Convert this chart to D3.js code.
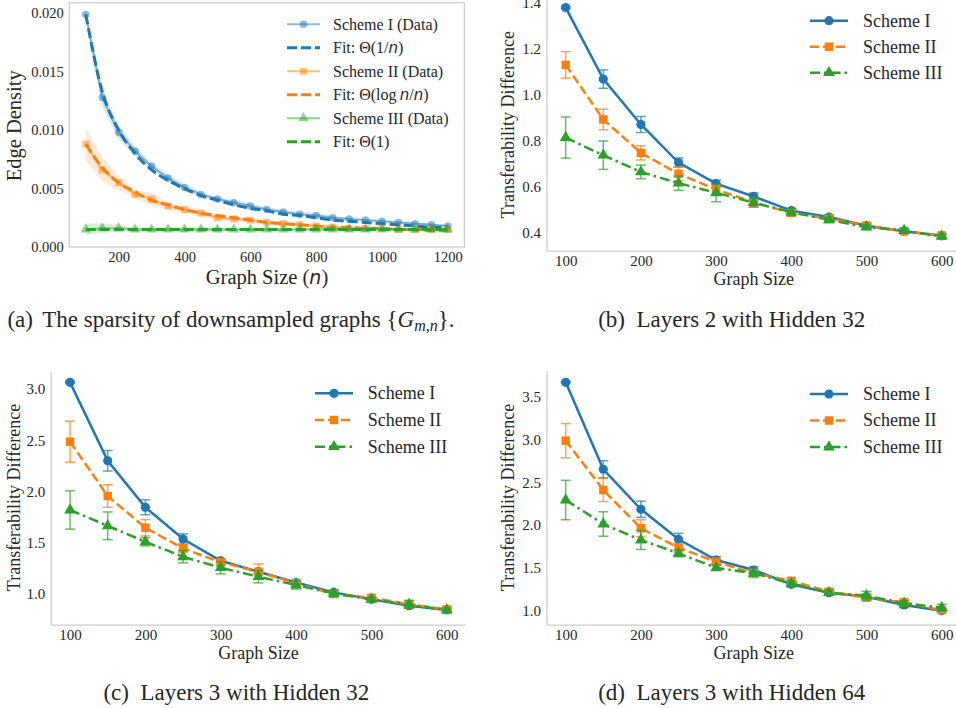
<!DOCTYPE html>
<html>
<head>
<meta charset="utf-8">
<script src="https://cdn.jsdelivr.net/npm/d3@7/dist/d3.min.js"></script>
<style>
body { margin: 0; background: #fff; }
svg text { font-family: "Liberation Serif", "Times New Roman", serif; fill: #262626; }
</style>
</head>
<body>
<svg id="fig" width="956" height="708"></svg>
<script>
// ---------- panel (a): edge density of downsampled graphs
var sizesA = [100,150,200,250,300,350,400,450,500,550,600,650,700,750,800,850,900,950,1000,1050,1100,1150,1200]

var densI   = [0.0199,0.0128,0.0098,0.0082,0.0069,0.0059,0.0051,0.0045,0.0041,0.0038,0.0035,0.0032,0.0030,0.0028,0.0027,0.0025,0.0024,0.0023,0.0022,0.0021,0.0020,0.0019,0.0018]
var bandI   = [0.0003,0.0008,0.0006,0.0004,0.0003,0.0003,0.0003,0.0002,0.0002,0.0002,0.0002,0.0002,0.0002,0.0002,0.0002,0.0002,0.0001,0.0001,0.0001,0.0001,0.0001,0.0001,0.0001]
var fitI    = [0.0199,0.0133,0.0100,0.0080,0.0066,0.0057,0.0050,0.0044,0.0040,0.0036,0.0033,0.0031,0.0028,0.0027,0.0025,0.0023,0.0022,0.0021,0.0020,0.0019,0.0018,0.0017,0.0017]

var densII  = [0.0088,0.0066,0.0055,0.0045,0.0041,0.0035,0.0032,0.0029,0.0025,0.0024,0.0023,0.0021,0.0020,0.0019,0.0018,0.0017,0.0016,0.0016,0.0016,0.0015,0.0015,0.0015,0.0015]
var bandII  = [0.0014,0.0010,0.0006,0.0004,0.0005,0.0003,0.0003,0.0003,0.0002,0.0002,0.0002,0.0002,0.0002,0.0002,0.0002,0.0002,0.0001,0.0001,0.0001,0.0001,0.0001,0.0001,0.0001]
var fitII   = [0.0088,0.0068,0.0055,0.0047,0.0040,0.0036,0.0032,0.0029,0.0027,0.0025,0.0023,0.0021,0.0020,0.0019,0.0018,0.0017,0.0017,0.0016,0.0016,0.0015,0.0015,0.0014,0.0014]

var densIII = [0.0015,0.0016,0.0016,0.0015,0.0015,0.0015,0.0015,0.0015,0.0015,0.0015,0.0015,0.0015,0.0015,0.0015,0.0015,0.0015,0.0015,0.0015,0.0015,0.0015,0.0015,0.0015,0.0015]
var bandIII = [0.0005,0.0004,0.0003,0.0002,0.0002,0.0002,0.0002,0.0002,0.0002,0.0001,0.0001,0.0001,0.0001,0.0001,0.0001,0.0001,0.0001,0.0001,0.0001,0.0001,0.0001,0.0001,0.0001]
var fitIII  = [0.0015,0.0015,0.0015,0.0015,0.0015,0.0015,0.0015,0.0015,0.0015,0.0015,0.0015,0.0015,0.0015,0.0015,0.0015,0.0015,0.0015,0.0015,0.0015,0.0015,0.0015,0.0015,0.0015]

var ticksAx = [200,400,600,800,1000,1200]
var ticksAy = [0,0.005,0.010,0.015,0.020]

// ---------- panels (b)-(d): transferability difference
var sizesB = [100,150,200,250,300,350,400,450,500,550,600]
var schemes = ["Scheme I","Scheme II","Scheme III"]

// (b) Layers 2, Hidden 32
var b_I    = [1.380,1.068,0.870,0.704,0.612,0.556,0.494,0.466,0.428,0.404,0.384]
var b_Ierr = [0.005,0.040,0.035,0.020,0.015,0.015,0.010,0.010,0.010,0.008,0.008]
var b_II   = [1.130,0.892,0.746,0.655,0.587,0.529,0.485,0.459,0.429,0.404,0.386]
var b_IIerr= [0.058,0.045,0.031,0.030,0.020,0.012,0.015,0.010,0.012,0.010,0.008]
var b_III  = [0.813,0.736,0.663,0.614,0.572,0.529,0.488,0.454,0.422,0.407,0.382]
var b_IIIerr=[0.090,0.062,0.030,0.031,0.039,0.020,0.015,0.012,0.010,0.010,0.008]

// (c) Layers 3, Hidden 32
var c_I    = [3.065,2.300,1.846,1.537,1.325,1.218,1.113,1.016,0.948,0.886,0.844]
var c_Ierr = [0.010,0.100,0.073,0.050,0.020,0.020,0.020,0.020,0.020,0.020,0.010]
var c_II   = [2.486,1.956,1.647,1.446,1.309,1.218,1.104,1.000,0.964,0.899,0.850]
var c_IIerr= [0.200,0.110,0.080,0.040,0.030,0.075,0.030,0.030,0.030,0.030,0.020]
var c_III  = [1.820,1.666,1.510,1.364,1.257,1.169,1.088,1.006,0.948,0.899,0.844]
var c_IIIerr=[0.187,0.135,0.040,0.060,0.060,0.060,0.040,0.030,0.020,0.040,0.020]

// (d) Layers 3, Hidden 64
var d_I    = [3.668,2.652,2.185,1.834,1.592,1.475,1.308,1.210,1.164,1.067,1.000]
var d_Ierr = [0.010,0.100,0.095,0.070,0.040,0.040,0.030,0.030,0.030,0.030,0.020]
var d_II   = [2.986,2.410,1.963,1.736,1.572,1.437,1.350,1.222,1.152,1.098,1.008]
var d_IIerr= [0.200,0.135,0.100,0.050,0.030,0.050,0.030,0.030,0.030,0.030,0.020]
var d_III  = [2.293,2.013,1.826,1.670,1.502,1.437,1.320,1.210,1.175,1.086,1.035]
var d_IIIerr=[0.230,0.143,0.110,0.040,0.030,0.030,0.030,0.030,0.050,0.030,0.040]

var ticksBx = [100,200,300,400,500,600]
var ticksBy = [0.4,0.6,0.8,1.0,1.2,1.4]
var ticksCy = [1.0,1.5,2.0,2.5,3.0]
var ticksDy = [1.0,1.5,2.0,2.5,3.0,3.5]

var colors = ["#1f77b4","#ff7f0e","#2ca02c"]
var dashes = [null,"9,4","10,4,2.5,4"]
var symbols = [d3.symbolCircle, d3.symbolSquare, d3.symbolTriangle]
var symSizes = [66, 72, 60]
var spine = "#cccccc"

var svg = d3.select("#fig")

function styleAxis(g, fs){
    g.select(".domain").remove()
    g.selectAll("text").attr("font-size", fs).attr("fill", "#262626")
        .attr("font-family", "Liberation Serif")
}

// ================= panel (a) =================
{
    var x = d3.scaleLinear().domain([50,1250]).range([69.3,464.3])
    var y = d3.scaleLinear().domain([0,0.0209]).range([247,2.7])
    var g = svg.append("g")

    g.append("rect").attr("x",69.3).attr("y",2.7).attr("width",395).attr("height",244.3)
        .attr("fill","none").attr("stroke",spine).attr("stroke-width",1.25)

    var dens = [densI, densII, densIII]
    var bands = [bandI, bandII, bandIII]
    var fits = [fitI, fitII, fitIII]

    for(var s = 0; s < 3; s++){
        var pts = sizesA.map(function(n,i){ return {n:n, v:dens[s][i], b:bands[s][i], f:fits[s][i]} })
        var area = d3.area().x(function(d){ return x(d.n) })
            .y0(function(d){ return y(d.v - d.b) }).y1(function(d){ return y(d.v + d.b) })
        g.append("path").attr("d", area(pts)).attr("fill", colors[s]).attr("fill-opacity", 0.18)

        var line = d3.line().x(function(d){ return x(d.n) }).y(function(d){ return y(d.v) })
        g.append("path").attr("d", line(pts)).attr("fill","none")
            .attr("stroke", colors[s]).attr("stroke-opacity",0.5).attr("stroke-width",2)
        g.selectAll("path.mk" + s).data(pts).enter().append("path")
            .attr("class","mk" + s)
            .attr("transform", function(d){ return "translate(" + x(d.n) + "," + y(d.v) + ")" })
            .attr("d", d3.symbol().type(symbols[s]).size(s == 0 ? 44 : 48))
            .attr("fill", colors[s]).attr("fill-opacity",0.5)

        var fitLine = d3.line().curve(d3.curveMonotoneX)
            .x(function(d){ return x(d.n) }).y(function(d){ return y(d.f) })
        g.append("path").attr("d", fitLine(pts)).attr("fill","none")
            .attr("stroke", colors[s]).attr("stroke-width",3).attr("stroke-dasharray","10,4")
    }

    var xa = g.append("g").attr("transform","translate(0,247)")
        .call(d3.axisBottom(x).tickValues(ticksAx).tickSize(0).tickPadding(4.4).tickFormat(d3.format("d")))
    styleAxis(xa, "14.5px")
    var ya = g.append("g").attr("transform","translate(69.3,0)")
        .call(d3.axisLeft(y).tickValues(ticksAy).tickSize(0).tickPadding(5.5).tickFormat(d3.format(".3f")))
    styleAxis(ya, "14.5px")

    var xl = g.append("text").attr("x",267).attr("y",283.5).attr("text-anchor","middle").attr("font-size","20.5px")
    xl.append("tspan").text("Graph Size (")
    xl.append("tspan").text("n").attr("font-family","DejaVu Sans").attr("font-style","italic").attr("font-size","19px")
    xl.append("tspan").text(")")

    g.append("text").attr("transform","translate(20.5,125.8) rotate(-90)")
        .attr("text-anchor","middle").attr("font-size","20.5px").text("Edge Density")

    // legend
    var legRows = [
        {s:0, fit:false, parts:[["Scheme I (Data)"]]},
        {s:0, fit:true,  parts:[["Fit: \u0398(1/"],["n","m"],[")"]]},
        {s:1, fit:false, parts:[["Scheme II (Data)"]]},
        {s:1, fit:true,  parts:[["Fit: \u0398(log\u2009"],["n","m"],["/"],["n","m"],[")"]]},
        {s:2, fit:false, parts:[["Scheme III (Data)"]]},
        {s:2, fit:true,  parts:[["Fit: \u0398(1)"]]}
    ]
    legRows.forEach(function(r, i){
        var yy = 24.3 + i * 23.5
        var lg = g.append("g")
        if(r.fit){
            lg.append("line").attr("x1",287).attr("x2",320).attr("y1",yy).attr("y2",yy)
                .attr("stroke",colors[r.s]).attr("stroke-width",3).attr("stroke-dasharray","10,4")
        } else {
            lg.append("line").attr("x1",287).attr("x2",320).attr("y1",yy).attr("y2",yy)
                .attr("stroke",colors[r.s]).attr("stroke-opacity",0.5).attr("stroke-width",2)
            lg.append("path").attr("transform","translate(303.5," + yy + ")")
                .attr("d", d3.symbol().type(symbols[r.s]).size(r.s == 0 ? 44 : 48))
                .attr("fill",colors[r.s]).attr("fill-opacity",0.5)
        }
        var t = lg.append("text").attr("x",333).attr("y",yy).attr("dy","0.33em").attr("font-size","16px")
        r.parts.forEach(function(p){
            var ts = t.append("tspan").text(p[0])
            if(p[1]) ts.attr("font-family","DejaVu Sans").attr("font-style","italic").attr("font-size","15px")
        })
    })

    var cap = svg.append("text").attr("x",231).attr("y",327).attr("text-anchor","middle").attr("font-size","23px")
    cap.append("tspan").text("(a)")
    cap.append("tspan").attr("dx",4).text(" The sparsity of downsampled graphs {")
    cap.append("tspan").attr("font-style","italic").text("G")
    cap.append("tspan").attr("font-style","italic").attr("font-size","16px").attr("dy",4).text("m,n")
    cap.append("tspan").attr("dy",-4).text("}.")
}

// ================= panels (b)-(d) =================
function tdPanel(cfg, vals, errs){
    var x = d3.scaleLinear().domain([75,625]).range(cfg.xr)
    var y = d3.scaleLinear().domain(cfg.yd).range(cfg.yr)
    var g = svg.append("g")

    // spines (left + bottom)
    g.append("line").attr("x1",cfg.xr[0]).attr("x2",cfg.xr[0]).attr("y1",cfg.yr[0]).attr("y2",cfg.yr[1])
        .attr("stroke",spine).attr("stroke-width",1.25)
    g.append("line").attr("x1",cfg.xr[0]).attr("x2",cfg.xr[1]).attr("y1",cfg.yr[0]).attr("y2",cfg.yr[0])
        .attr("stroke",spine).attr("stroke-width",1.25)

    var xa = g.append("g").attr("transform","translate(0," + cfg.yr[0] + ")")
        .call(d3.axisBottom(x).tickValues(ticksBx).tickSize(0).tickPadding(4.4).tickFormat(d3.format("d")))
    styleAxis(xa, "15px")
    var ya = g.append("g").attr("transform","translate(" + cfg.xr[0] + ",0)")
        .call(d3.axisLeft(y).tickValues(cfg.yt).tickSize(0).tickPadding(6).tickFormat(d3.format(".1f")))
    styleAxis(ya, "15px")

    for(var s = 0; s < 3; s++){
        var pts = sizesB.map(function(n,i){ return {n:n, v:vals[s][i], e:errs[s][i]} })
        var eg = g.append("g").attr("stroke",colors[s]).attr("stroke-opacity",0.7).attr("stroke-width",1.5)
        pts.forEach(function(d){
            var cx = x(d.n)
            eg.append("line").attr("x1",cx).attr("x2",cx).attr("y1",y(d.v - d.e)).attr("y2",y(d.v + d.e))
            eg.append("line").attr("x1",cx - 5).attr("x2",cx + 5).attr("y1",y(d.v - d.e)).attr("y2",y(d.v - d.e))
            eg.append("line").attr("x1",cx - 5).attr("x2",cx + 5).attr("y1",y(d.v + d.e)).attr("y2",y(d.v + d.e))
        })
        var line = d3.line().x(function(d){ return x(d.n) }).y(function(d){ return y(d.v) })
        g.append("path").attr("d", line(pts)).attr("fill","none")
            .attr("stroke",colors[s]).attr("stroke-width",2.5)
            .attr("stroke-dasharray",dashes[s])
        g.selectAll("path.mk" + s).data(pts).enter().append("path")
            .attr("class","mk" + s)
            .attr("transform", function(d){ return "translate(" + x(d.n) + "," + y(d.v) + ")" })
            .attr("d", d3.symbol().type(symbols[s]).size(symSizes[s]))
            .attr("fill",colors[s])
    }

    // legend
    schemes.forEach(function(name, i){
        var yy = cfg.leg[2] + i * cfg.leg[3]
        g.append("line").attr("x1",cfg.leg[0]).attr("x2",cfg.leg[0] + 38).attr("y1",yy).attr("y2",yy)
            .attr("stroke",colors[i]).attr("stroke-width",2.5).attr("stroke-dasharray",dashes[i])
        g.append("path").attr("transform","translate(" + (cfg.leg[0] + 19) + "," + yy + ")")
            .attr("d", d3.symbol().type(symbols[i]).size(symSizes[i])).attr("fill",colors[i])
        g.append("text").attr("x",cfg.leg[1]).attr("y",yy).attr("dy","0.33em").attr("font-size","18px").text(name)
    })

    g.append("text").attr("x",(cfg.xr[0] + cfg.xr[1]) / 2).attr("y",cfg.yr[0] + 33.5)
        .attr("text-anchor","middle").attr("font-size","18px").text("Graph Size")
    g.append("text").attr("transform","translate(" + cfg.ylx + "," + cfg.yly + ") rotate(-90)")
        .attr("text-anchor","middle").attr("font-size","18px").text("Transferability Difference")
    svg.append("text").attr("x",cfg.cap[0]).attr("y",cfg.cap[1]).attr("text-anchor","middle")
        .attr("font-size","23px").text(cfg.title)
}

tdPanel({xr:[546.9,960.5], yd:[0.318,1.435], yr:[251,-5], yt:ticksBy,
         leg:[810,863,20.7,26], ylx:513.5, yly:124.7, cap:[731.7,327],
         title:"(b)\u2002Layers 2 with Hidden 32"},
        [b_I,b_II,b_III], [b_Ierr,b_IIerr,b_IIIerr])

tdPanel({xr:[51.2,465.6], yd:[0.698,3.169], yr:[625,371.7], yt:ticksCy,
         leg:[315,367.7,393.3,26.7], ylx:19.5, yly:497.5, cap:[236.3,700],
         title:"(c)\u2002Layers 3 with Hidden 32"},
        [c_I,c_II,c_III], [c_Ierr,c_IIerr,c_IIIerr])

tdPanel({xr:[546.9,960.5], yd:[0.833,3.80], yr:[625,371], yt:ticksDy,
         leg:[810,863,394,26.5], ylx:513.5, yly:497.5, cap:[731.7,700],
         title:"(d)\u2002Layers 3 with Hidden 64"},
        [d_I,d_II,d_III], [d_Ierr,d_IIerr,d_IIIerr])
</script>
</body>
</html>
